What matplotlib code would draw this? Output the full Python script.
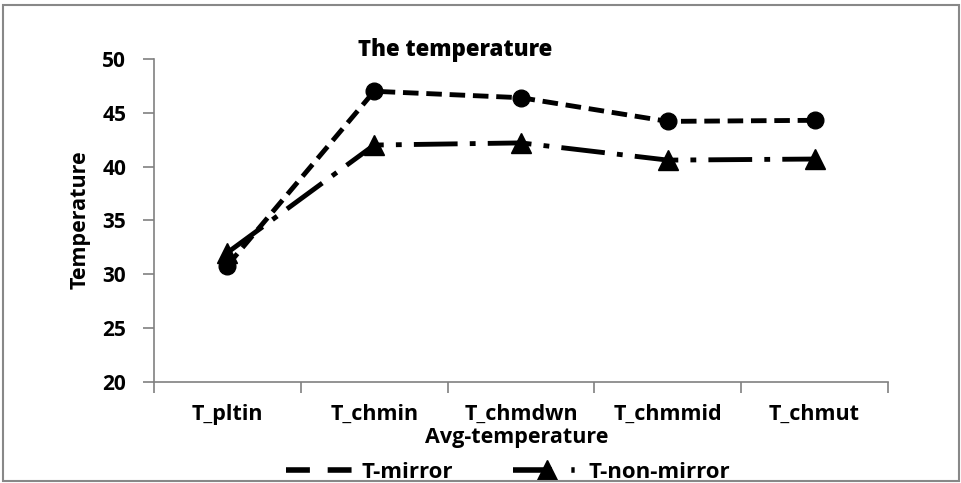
import matplotlib
matplotlib.use("Agg")
import matplotlib.pyplot as plt
from matplotlib.patches import Rectangle
from matplotlib.lines import Line2D

categories = ["T_pltin", "T_chmin", "T_chmdwn", "T_chmmid", "T_chmut"]
t_mirror = [30.8, 47.0, 46.4, 44.2, 44.3]
t_non_mirror = [32.0, 42.0, 42.2, 40.6, 40.7]
yticks = [20, 25, 30, 35, 40, 45, 50]

plt.rcParams['font.family'] = ['Open Sans', 'DejaVu Sans']
plt.rcParams['font.weight'] = 'bold'

fig = plt.figure(figsize=(9.61, 4.83), dpi=100)
ax = fig.add_axes([154/961, 1-381.7/483, (888-154)/961, (381.7-59)/483])

x = list(range(len(categories)))
ax.plot(x, t_mirror, color='black', lw=3.5, dashes=[3.2, 1.6],
        marker='o', markersize=12, label='T-mirror')
ax.plot(x, t_non_mirror, color='black', lw=3.5, dashes=[9, 2.5, 1.2, 2.5],
        marker='^', markersize=14, label='T-non-mirror')

ax.set_xlim(-0.5, len(categories) - 0.5)
ax.set_ylim(20, 50)
ax.set_yticks(yticks)
ax.set_xticks([i - 0.5 for i in range(len(categories) + 1)])
ax.set_xticklabels([])
ax.set_xticks(x, minor=True)
ax.set_xticklabels(categories, minor=True, fontsize=15.5, fontweight='bold')
ax.tick_params(axis='x', which='minor', length=0, pad=16)
ax.tick_params(axis='x', which='major', length=8, color='#808080', width=1.2, direction='out')
ax.tick_params(axis='y', length=8, color='#808080', width=1.2, direction='out',
               labelsize=15, pad=12)
for lbl in ax.get_yticklabels():
    lbl.set_fontweight('bold')

for s in ['top', 'right']:
    ax.spines[s].set_visible(False)
for s in ['left', 'bottom']:
    ax.spines[s].set_color('#808080')
    ax.spines[s].set_linewidth(1.2)

fig.text(455/961, 1-50/483, "The temperature", ha='center', va='center',
         fontsize=16, fontweight='heavy')
fig.text(517/961, 1-438/483, "Avg-temperature", ha='center', va='center',
         fontsize=15.5, fontweight='bold')
fig.text(80/961, 1-220/483, "Temperature", ha='center', va='center',
         rotation=90, fontsize=15.5, fontweight='bold')

handles = [
    Line2D([], [], color='black', lw=4, dashes=[4.3, 3.2]),
    Line2D([], [], color='black', lw=4, dashes=[7, 3.5, 0.6, 3.5],
           marker='^', markersize=14),
]
leg = fig.legend(handles, ['T-mirror', 'T-non-mirror'], loc='center',
                 bbox_to_anchor=(508/961, 1-472/483), ncol=2,
                 frameon=False, fontsize=16, handlelength=3.1,
                 columnspacing=2.7, handletextpad=0.3, borderaxespad=0,
                 borderpad=0)
for t in leg.get_texts():
    t.set_fontweight('bold')

fig.patches.append(Rectangle((3/961, 2/483), 956/961, 476/483, transform=fig.transFigure,
                             fill=False, edgecolor='#888888', lw=1.5, zorder=10))

fig.savefig("out.png", dpi=100)
